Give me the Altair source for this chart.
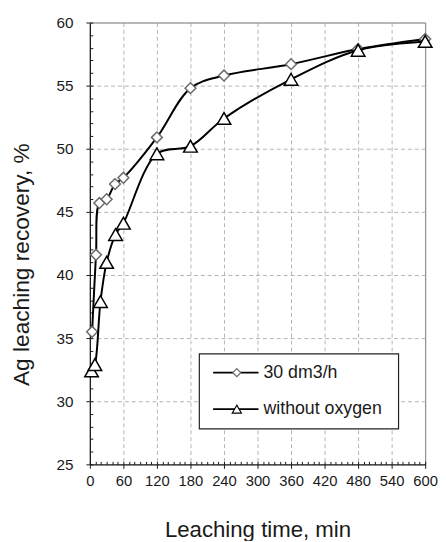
import altair as alt
import pandas as pd

series_names = ["30 dm3/h", "without oxygen"]
time_oxygen = [4, 11, 17, 30, 45, 60, 120, 180, 240, 360, 480, 600]
rec_oxygen = [35.5, 41.6, 45.7, 46.0, 47.2, 47.7, 50.9, 54.8, 55.8, 56.7, 57.9, 58.7]
time_none = [3, 9, 19, 30, 46, 60, 120, 180, 240, 360, 480, 600]
rec_none = [32.4, 32.9, 37.9, 41.0, 43.2, 44.1, 49.6, 50.2, 52.4, 55.5, 57.8, 58.5]
x_ticks = list(range(0, 601, 10))   # labelled every 60
y_ticks = list(range(25, 61, 1))    # labelled every 5

df_ox = pd.DataFrame({"t": time_oxygen, "r": rec_oxygen})
df_no = pd.DataFrame({"t": time_none, "r": rec_none})
df_leg1 = pd.DataFrame({"label": [series_names[0]]})
df_leg2 = pd.DataFrame({"label": [series_names[1]]})

FONT = "Liberation Sans, Arial, sans-serif"
TXT = "#1a1a1a"
GRID = "#b4b4b4"
FRAME = "#808080"

xs = alt.Scale(domain=[0, 600], nice=False, zero=False)
ys = alt.Scale(domain=[25, 60], nice=False, zero=False)

x_axis = alt.Axis(
    values=x_ticks, tickCount=1000, format="d", orient="bottom", offset=-3, domain=False,
    labelExpr="datum.value % 60 === 0 ? datum.label : ''",
    labelOverlap=False, labelFlush=False,
    labelFont=FONT, labelFontSize=15, labelColor=TXT, labelPadding=5,
    tickColor=TXT, tickWidth=1,
    tickSize={"condition": {"test": "datum.value % 60 === 0", "value": 7}, "value": 3},
    grid=True,
    gridOpacity={"condition": {"test": "datum.value % 60 === 0", "value": 1}, "value": 0},
    gridColor={"condition": [{"test": "datum.value === 0", "value": TXT},
                             {"test": "datum.value === 600", "value": FRAME}], "value": GRID},
    gridDash={"condition": {"test": "datum.value === 0 || datum.value === 600", "value": []},
              "value": [4, 3]},
    gridWidth={"condition": {"test": "datum.value === 0", "value": 1.3}, "value": 1},
    title="Leaching time, min", titleFont=FONT, titleFontSize=22.5, titleFontWeight="normal",
    titleColor=TXT, titleX=170, titleY=58,
)
y_axis = alt.Axis(
    values=y_ticks, tickCount=1000, format="d", orient="left", offset=-3, domain=False,
    labelExpr="datum.value % 5 === 0 ? datum.label : ''",
    labelOverlap=False, labelFlush=False,
    labelFont=FONT, labelFontSize=15.5, labelColor=TXT, labelPadding=13,
    tickColor=TXT, tickWidth=1,
    tickSize={"condition": {"test": "datum.value % 5 === 0", "value": 7}, "value": 3},
    grid=True,
    gridOpacity={"condition": {"test": "datum.value % 5 === 0", "value": 1}, "value": 0},
    gridColor={"condition": [{"test": "datum.value === 25", "value": TXT},
                             {"test": "datum.value === 60", "value": FRAME}], "value": GRID},
    gridDash={"condition": {"test": "datum.value === 25 || datum.value === 60", "value": []},
              "value": [4, 3]},
    gridWidth={"condition": {"test": "datum.value === 25", "value": 1.3}, "value": 1},
    title="Ag leaching recovery, %", titleFont=FONT, titleFontSize=23, titleFontWeight="normal",
    titleColor=TXT, titleX=-60, titleY=245,
)

line_ox = alt.Chart(df_ox).mark_line(interpolate="catmull-rom", color="black", strokeWidth=2).encode(
    x=alt.X("t:Q", scale=xs, axis=x_axis),
    y=alt.Y("r:Q", scale=ys, axis=y_axis),
)
pts_ox = alt.Chart(df_ox).mark_point(shape="diamond", size=120, filled=True, fill="white",
                                     stroke="#6a6a6a", strokeWidth=1.5, opacity=1).encode(
    x=alt.X("t:Q", scale=xs), y=alt.Y("r:Q", scale=ys),
)
line_no = alt.Chart(df_no).mark_line(interpolate="catmull-rom", color="black", strokeWidth=2).encode(
    x=alt.X("t:Q", scale=xs), y=alt.Y("r:Q", scale=ys),
)
pts_no = alt.Chart(df_no).mark_point(shape="triangle-up", size=190, filled=True, fill="white",
                                     stroke="black", strokeWidth=1.5, opacity=1).encode(
    x=alt.X("t:Q", scale=xs), y=alt.Y("r:Q", scale=ys),
)

# legend box (drawn as a guide, in pixel space of the plot area)
leg_box = alt.Chart(df_leg1).mark_rect(fill="white", stroke="#222222", strokeWidth=1.2).encode(
    x=alt.value(111), x2=alt.value(313), y=alt.value(336), y2=alt.value(412))
leg_line1 = alt.Chart(df_leg1).mark_rule(color="black", strokeWidth=2).encode(
    x=alt.value(125), x2=alt.value(171), y=alt.value(355))
leg_line2 = alt.Chart(df_leg2).mark_rule(color="black", strokeWidth=2).encode(
    x=alt.value(125), x2=alt.value(171), y=alt.value(392))
leg_sym1 = alt.Chart(df_leg1).mark_point(shape="diamond", size=64, filled=True, fill="white",
                                         stroke="#6a6a6a", strokeWidth=1.2, opacity=1).encode(
    x=alt.value(149), y=alt.value(355))
leg_sym2 = alt.Chart(df_leg2).mark_point(shape="triangle-up", size=85, filled=True, fill="white",
                                         stroke="black", strokeWidth=1.2, opacity=1).encode(
    x=alt.value(149), y=alt.value(392))
leg_txt1 = alt.Chart(df_leg1).mark_text(align="left", baseline="middle", font=FONT, fontSize=18,
                                        color=TXT).encode(
    x=alt.value(176), y=alt.value(355), text="label:N")
leg_txt2 = alt.Chart(df_leg2).mark_text(align="left", baseline="middle", font=FONT, fontSize=18,
                                        color=TXT).encode(
    x=alt.value(176), y=alt.value(392), text="label:N")

chart = alt.layer(
    line_ox, pts_ox, line_no, pts_no,
    leg_box, leg_line1, leg_line2, leg_sym1, leg_sym2, leg_txt1, leg_txt2,
).properties(
    width=340, height=448,
    autosize=alt.AutoSizeParams(type="none"),
    padding={"left": 83, "top": 11, "right": 13, "bottom": 74},
).configure_view(strokeWidth=0).configure(background="white")

chart.save("out.html", embed_options={"renderer": "svg", "actions": False})
